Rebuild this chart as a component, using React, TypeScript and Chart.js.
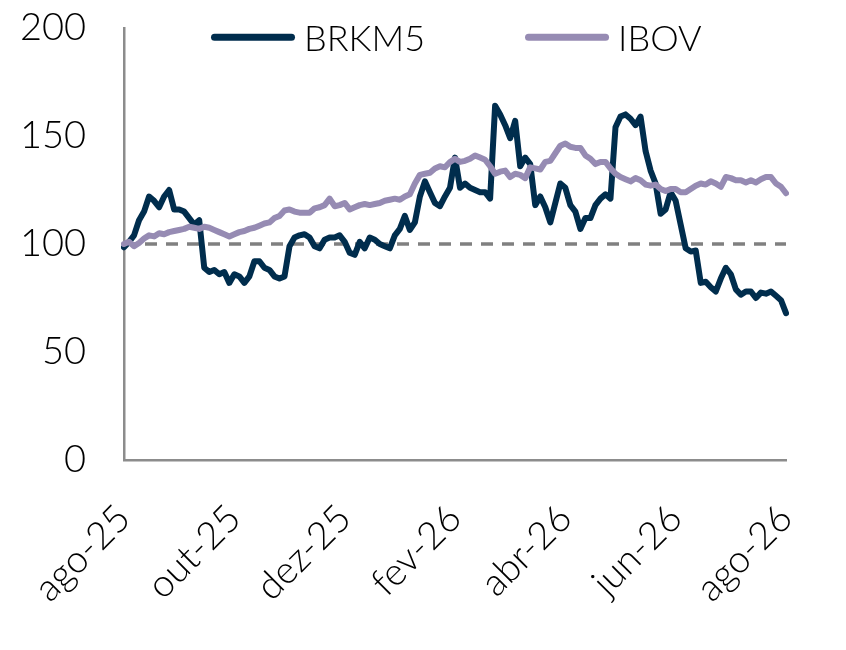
import { useEffect, useRef } from "react";
import Chart from "chart.js/auto";

// ---- data ----
const MONTH_TICKS = ["ago-25", "out-25", "dez-25", "fev-26", "abr-26", "jun-26", "ago-26"];
const POINTS_PER_TICK = 22;
const SERIES_NAMES = ["BRKM5", "IBOV"];
const REFERENCE_LEVEL = 100;
const Y_MIN = 0;
const Y_MAX = 200;
const Y_STEP = 50;

const BRKM5 = [
  98.5, 101, 104, 111, 115, 122, 120, 117, 122, 125,
  116, 116, 115, 112, 109, 111, 89, 87, 88, 86,
  87, 82, 86, 85, 82, 85, 92, 92, 89, 88,
  85, 84, 85, 99, 103, 104, 104.5, 103, 99, 98,
  102, 103, 103, 104, 101, 96, 95, 101, 98, 103,
  102, 100, 99, 98, 104, 107, 113, 106.5, 110, 122,
  129, 124, 119, 117.5, 122, 126, 140, 126, 128, 126,
  125, 124, 124, 121, 164, 160, 155, 149, 157, 136,
  140, 137, 118, 122, 117, 110, 119, 128, 126, 118,
  115, 107, 112, 112, 118, 121, 123, 121, 154, 159,
  160, 158, 155, 159, 143, 134, 128, 114, 116, 124,
  120, 109, 98, 96.5, 97, 82, 82.5, 80, 78, 84,
  89, 86, 79, 76.5, 78, 78, 75, 77.5, 77, 78,
  76, 74, 68,
];

const IBOV = [
  100, 101, 99, 100.5, 102.5, 104, 103.5, 105, 104.5, 105.5,
  106, 106.5, 107, 108, 107.5, 107, 108, 107.5, 106.5, 105.5,
  104.5, 103.5, 104.5, 105.5, 106, 107, 107.5, 108.5, 109.5, 110,
  112, 113, 115.5, 116, 115, 114.5, 114.5, 114.5, 116.5, 117,
  118, 121, 117.5, 118, 119, 116, 117, 118, 118.5, 118,
  118.5, 119, 120, 120.5, 121, 120.5, 122, 123, 128, 132,
  132.5, 133, 135, 136, 135.5, 138, 139.5, 138, 138.5, 139.5,
  141, 140, 139, 136, 132.5, 133.5, 134, 131, 132.5, 132,
  130.5, 135.5, 135, 134.5, 138, 138.5, 142, 145.5, 146.5, 145,
  144.5, 144.5, 141, 139.5, 137, 138, 138, 135, 132.5, 131,
  130, 129, 130.5, 129.5, 127.5, 127, 127.5, 125.5, 124.5, 125.5,
  125.5, 124, 124, 125.5, 127, 128, 127.5, 129, 128, 126.5,
  131, 130.5, 129.5, 129.5, 128.5, 129.5, 128.5, 130, 131, 131,
  128, 126.5, 123.5,
];

const X_LABELS = BRKM5.map((_, i) =>
  i % POINTS_PER_TICK === 0 ? MONTH_TICKS[i / POINTS_PER_TICK] ?? "" : ""
);

// ---- styles ----
const FONT = "Lato";
const TICK_SIZE = 38;
const LEGEND_SIZE = 36;
const DARK = "#002d4d";
const PURPLE = "#968bb3";
const AXIS = "#8c8c8c";

const referencePlugin = {
  id: "referenceLine",
  beforeDatasetsDraw(chart: any) {
    const { ctx, chartArea, scales } = chart;
    const y = scales.y.getPixelForValue(REFERENCE_LEVEL);
    ctx.save();
    ctx.beginPath();
    ctx.setLineDash([12, 9]);
    ctx.lineWidth = 3.5;
    ctx.strokeStyle = "#808080";
    ctx.moveTo(chartArea.left, y);
    ctx.lineTo(chartArea.right, y);
    ctx.stroke();
    ctx.restore();
  },
};

const legendPlugin = {
  id: "topLegend",
  afterDraw(chart: any) {
    const { ctx, chartArea } = chart;
    ctx.save();
    ctx.font = `300 ${LEGEND_SIZE}px ${FONT}`;
    ctx.textBaseline = "alphabetic";
    ctx.fillStyle = "#000";
    let x = chartArea.left + 90.5;
    const lineY = chartArea.top + 9.3;
    const baseY = chartArea.top + 22.7;
    const lineLen = 77;
    chart.data.datasets.forEach((ds: any) => {
      ctx.beginPath();
      ctx.strokeStyle = ds.borderColor;
      ctx.lineWidth = 7;
      ctx.lineCap = "round";
      ctx.moveTo(x, lineY);
      ctx.lineTo(x + lineLen, lineY);
      ctx.stroke();
      const tx = x + lineLen + 3.5 + 9;
      ctx.fillText(ds.label, tx, baseY);
      x = tx + ctx.measureText(ds.label).width + 103.5;
    });
    ctx.restore();
  },
};

export default function App() {
  const ref = useRef<HTMLCanvasElement | null>(null);

  useEffect(() => {
    if (!ref.current) return;
    const chart = new Chart(ref.current, {
      type: "line",
      data: {
        labels: X_LABELS,
        datasets: [
          {
            label: SERIES_NAMES[0],
            data: BRKM5,
            borderColor: DARK,
            backgroundColor: DARK,
            borderWidth: 6,
            pointRadius: 0,
            tension: 0,
            borderJoinStyle: "round",
            borderCapStyle: "round",
            order: 2,
          },
          {
            label: SERIES_NAMES[1],
            data: IBOV,
            borderColor: PURPLE,
            backgroundColor: PURPLE,
            borderWidth: 6,
            pointRadius: 0,
            tension: 0,
            borderJoinStyle: "round",
            borderCapStyle: "round",
            order: 1,
          },
        ],
      },
      options: {
        animation: false,
        responsive: true,
        maintainAspectRatio: false,
        layout: { padding: { top: 20, right: 52, left: 0, bottom: 0 } },
        plugins: {
          legend: { display: false },
          tooltip: { enabled: false },
        },
        scales: {
          x: {
            type: "category",
            offset: false,
            grid: { display: false, drawTicks: false },
            border: { display: true, color: AXIS, width: 2.5 },
            ticks: {
              autoSkip: false,
              maxRotation: 45,
              minRotation: 45,
              padding: 36,
              color: "#000",
              font: { family: FONT, size: TICK_SIZE, weight: "300" as any },
            },
            afterFit: (scale: any) => {
              scale.height = 182;
              scale.paddingLeft = 0;
              scale.paddingRight = 0;
            },
          },
          y: {
            min: Y_MIN,
            max: Y_MAX,
            grid: { display: false, drawTicks: false },
            border: { display: true, color: AXIS, width: 2.5 },
            ticks: {
              stepSize: Y_STEP,
              padding: 38,
              color: "#000",
              font: { family: FONT, size: TICK_SIZE, weight: "300" as any, lineHeight: 1 },
            },
            afterFit: (scale: any) => {
              scale.width = 116;
              scale.paddingTop = 0;
              scale.paddingBottom = 0;
            },
          },
        },
      },
      plugins: [referencePlugin, legendPlugin],
    });
    return () => chart.destroy();
  }, []);

  return (
    <div style={{ width: 830, height: 634, position: "relative" }}>
      <canvas ref={ref} />
    </div>
  );
}
